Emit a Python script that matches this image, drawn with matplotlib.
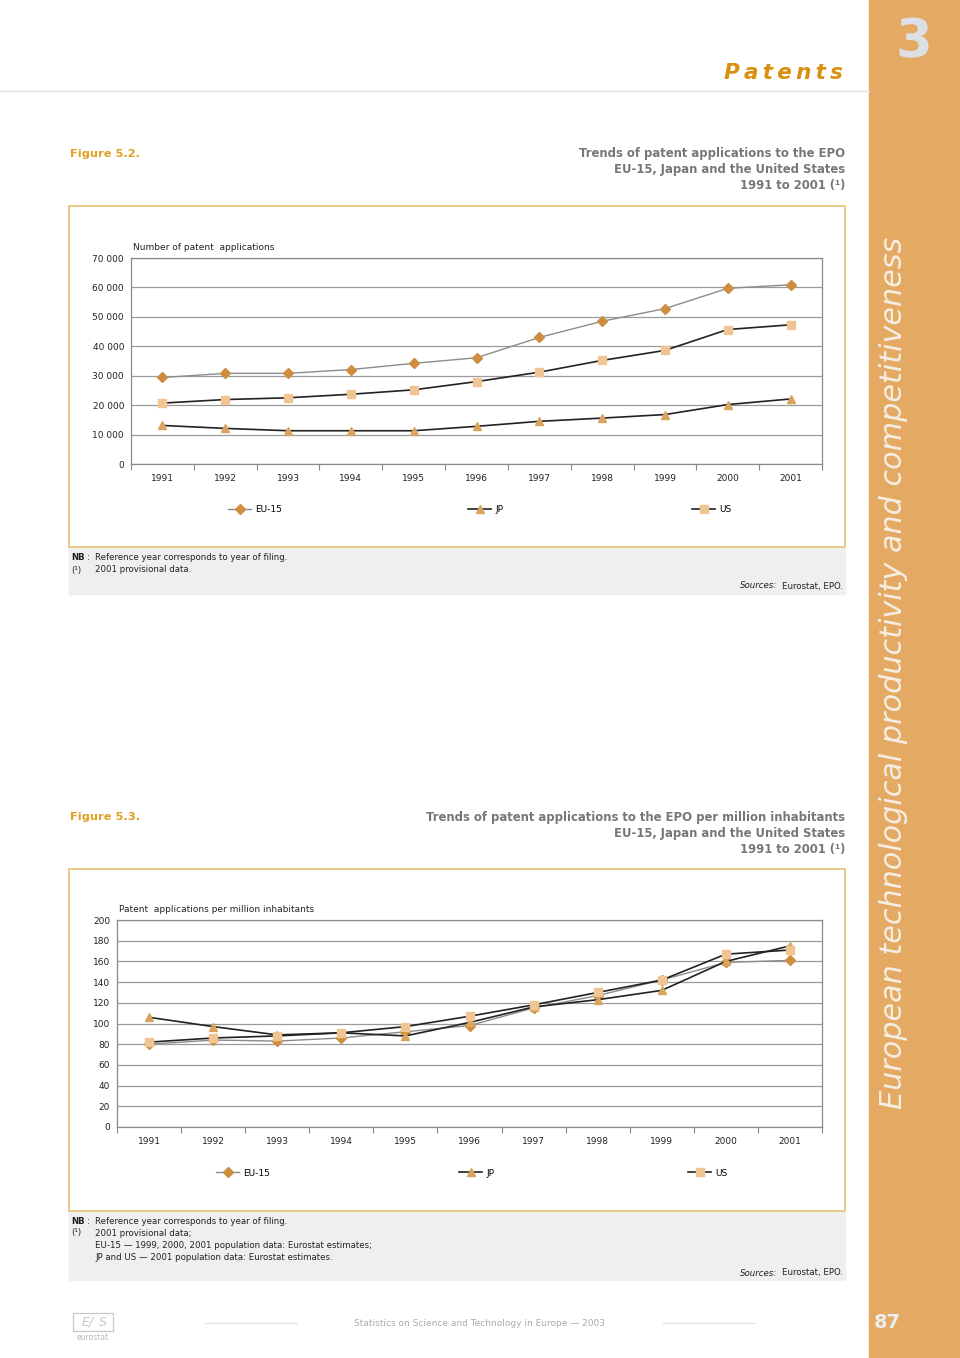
import numpy as np
import matplotlib
matplotlib.use("Agg")
from matplotlib import pyplot as plt
from matplotlib.lines import Line2D
from matplotlib.patches import Rectangle

# ---- data ----
years = ["1991", "1992", "1993", "1994", "1995", "1996", "1997", "1998", "1999", "2000", "2001"]

# figure 5.2 - number of patent applications
eu_apps = [29400, 30800, 30800, 32100, 34200, 36100, 43000, 48500, 52800, 59700, 60900]
jp_apps = [13100, 12100, 11300, 11300, 11300, 12800, 14500, 15600, 16800, 20200, 22100]
us_apps = [20700, 21900, 22500, 23700, 25200, 28000, 31200, 35200, 38600, 45700, 47300]
apps_ticks = [0, 10000, 20000, 30000, 40000, 50000, 60000, 70000]
apps_ticklabels = ["0", "10 000", "20 000", "30 000", "40 000", "50 000", "60 000", "70 000"]

# figure 5.3 - per million inhabitants
eu_pm = [80, 84, 83, 86, 92, 98, 115, 127, 142, 159, 161]
jp_pm = [106, 97, 89, 91, 88, 101, 116, 123, 132, 160, 175]
us_pm = [82, 86, 88, 91, 97, 107, 118, 130, 142, 167, 171]
pm_ticks = [0, 20, 40, 60, 80, 100, 120, 140, 160, 180, 200]

series_names = ["EU-15", "JP", "US"]

# ---- style ----
W, H = 960, 1358
band = "#E4A963"
gold = "#E0A020"
title_grey = "#777777"
box_col = "#E9C77E"
note_bg = "#EFEFEF"
note_fs = 6.2
styles = {
    "EU-15": dict(color="#8C8C8C", lw=1.0, marker="D", ms=5.0, mfc="#CD8E40", mec="#CD8E40"),
    "JP": dict(color="#222222", lw=1.2, marker="^", ms=6.3, mfc="#D8A45E", mec="#D8A45E"),
    "US": dict(color="#222222", lw=1.2, marker="s", ms=6.3, mfc="#F0C493", mec="#F0C493"),
}

plt.rcParams["font.family"] = ["DejaVu Sans"]

fig = plt.figure(figsize=(W / 100, H / 100), dpi=100)
fig.patch.set_facecolor("white")

page = fig.add_axes([0, 0, 1, 1], zorder=0)
page.set_xlim(0, W)
page.set_ylim(H, 0)
page.axis("off")


def px_axes(left, top, right, bottom):
    return fig.add_axes([left / W, 1 - bottom / H, (right - left) / W, (bottom - top) / H], zorder=2)


def fpos(x, y):
    return (x / W, 1 - y / H)


# right hand band
page.add_patch(Rectangle((869, 0), W - 869, H, color=band, zorder=0))
page.text(914, 42, "3", fontsize=38, fontweight="bold", color="#DCDFE4", ha="center", va="center")
page.text(894, 673, "European technological productivity and competitiveness", rotation=90,
          fontsize=21.8, style="italic", color="#F6EEE2", ha="center", va="center")
page.text(887, 1322, "87", fontsize=14, fontweight="bold", color="#EDEDED", ha="center", va="center")

# header
page.plot([0, 869], [91, 91], color="#E2E2E2", lw=1)
page.text(843, 73, "P\u2009a\u2009t\u2009e\u2009n\u2009t\u2009s", fontsize=15.5, fontweight="bold",
          style="italic", color="#D8900F", ha="right", va="center")

# footer
page.plot([205, 297], [1323, 1323], color="#E0E0E0", lw=0.8)
page.plot([663, 755], [1323, 1323], color="#E0E0E0", lw=0.8)
page.text(480, 1323, "Statistics on Science and Technology in Europe \u2014 2003", fontsize=6.5,
          color="#AAAAAA", ha="center", va="center")
page.add_patch(Rectangle((73, 1313), 40, 18, fill=False, ec="#C8C8C8", lw=0.9))
page.text(88, 1322, "E/", fontsize=9, color="#C8C8C8", ha="center", va="center", style="italic")
page.text(103, 1322, "S", fontsize=9, color="#C8C8C8", ha="center", va="center", style="italic")
page.text(93, 1337, "eurostat", fontsize=5.5, color="#BBBBBB", ha="center", va="center")


def figure_block(fig_label, title_lines, label_y, box, note_bottom, notes, sources_y):
    page.text(70, label_y, fig_label, fontsize=8.2, fontweight="bold", color=gold, ha="left", va="center")
    for i, line in enumerate(title_lines):
        page.text(845, label_y + 16 * i, line, fontsize=8.4, fontweight="bold", color=title_grey,
                  ha="right", va="center")
    x0, y0, x1, y1 = box
    page.add_patch(Rectangle((x0, y1), x1 - x0, note_bottom - y1, color=note_bg, zorder=0))
    page.add_patch(Rectangle((x0, y0), x1 - x0, y1 - y0, fill=False, ec=box_col, lw=1.3, zorder=1))
    for lead, text, y in notes:
        if lead == "NB:":
            page.text(71, y, "NB", fontsize=note_fs, fontweight="bold", color="#222", ha="left", va="center")
            page.text(87, y, ":", fontsize=note_fs, color="#222", ha="left", va="center")
        elif lead:
            page.text(71, y, lead, fontsize=note_fs, color="#222", ha="left", va="center")
        page.text(95, y, text, fontsize=note_fs, color="#222", ha="left", va="center")
    page.text(777, sources_y, "Sources:", fontsize=note_fs, style="italic", color="#222", ha="right", va="center")
    page.text(843, sources_y, "Eurostat, EPO.", fontsize=note_fs, color="#222", ha="right", va="center")


def chart(rect, data, ticks, ticklabels, ylim, ylabel, ylabel_x, legend_y, legend_x):
    ax = px_axes(*rect)
    ax.set_facecolor("white")
    x = np.arange(len(years))
    for name, vals in zip(series_names, data):
        st = styles[name]
        ax.plot(x, vals, color=st["color"], lw=st["lw"], marker=st["marker"], ms=st["ms"],
                mfc=st["mfc"], mec=st["mec"], zorder=3)
    ax.set_xlim(-0.5, len(years) - 0.5)
    ax.set_ylim(*ylim)
    ax.set_yticks(ticks)
    ax.set_yticklabels(ticklabels)
    ax.set_xticks(x)
    ax.set_xticklabels(years)
    ax.set_xticks(np.arange(-0.5, len(years), 1), minor=True)
    ax.tick_params(axis="x", which="major", length=0, pad=7, labelsize=6.5, labelcolor="#222")
    ax.tick_params(axis="x", which="minor", length=4, color="#888888", width=0.8, direction="out")
    ax.tick_params(axis="y", length=0, pad=5, labelsize=6.5, labelcolor="#222")
    ax.yaxis.grid(True, color="#9A9A9A", lw=0.9)
    ax.set_axisbelow(True)
    for s in ax.spines.values():
        s.set_color("#8A8A8A")
        s.set_linewidth(0.9)
    page.text(ylabel_x, rect[1] - 10, ylabel, fontsize=6.5, color="#222", ha="left", va="center")
    for name, lx in zip(series_names, legend_x):
        st = styles[name]
        h = Line2D([], [], color=st["color"], lw=st["lw"], marker=st["marker"], ms=st["ms"],
                   mfc=st["mfc"], mec=st["mec"])
        fig.legend([h], [name], loc="center left", bbox_to_anchor=fpos(lx, legend_y),
                   frameon=False, fontsize=6.5, handlelength=2.6, handletextpad=0.4,
                   borderpad=0, borderaxespad=0)
    return ax


# Figure 5.2
figure_block("Figure 5.2.",
             ["Trends of patent applications to the EPO",
              "EU-15, Japan and the United States",
              "1991 to 2001 (\u00b9)"],
             154, (69, 206, 845, 547), 594,
             [("NB:", "Reference year corresponds to year of filing.", 557),
              ("(\u00b9)", "2001 provisional data.", 570)],
             586)
chart((131, 258, 822, 464), [eu_apps, jp_apps, us_apps], apps_ticks, apps_ticklabels,
      (0, 70000), "Number of patent  applications", 133, 510, [228, 468, 692])

# Figure 5.3
figure_block("Figure 5.3.",
             ["Trends of patent applications to the EPO per million inhabitants",
              "EU-15, Japan and the United States",
              "1991 to 2001 (\u00b9)"],
             817, (69, 869, 845, 1211), 1280,
             [("NB:", "Reference year corresponds to year of filing.", 1221),
              ("(\u00b9)", "2001 provisional data;", 1233),
              ("", "EU-15 \u2014 1999, 2000, 2001 population data: Eurostat estimates;", 1245),
              ("", "JP and US \u2014 2001 population data: Eurostat estimates.", 1257)],
             1273)
chart((117, 920, 822, 1127), [eu_pm, jp_pm, us_pm], pm_ticks, [str(t) for t in pm_ticks],
      (0, 200), "Patent  applications per million inhabitants", 119, 1173, [216, 459, 688])

fig.savefig("out.png", dpi=100, facecolor="white")
